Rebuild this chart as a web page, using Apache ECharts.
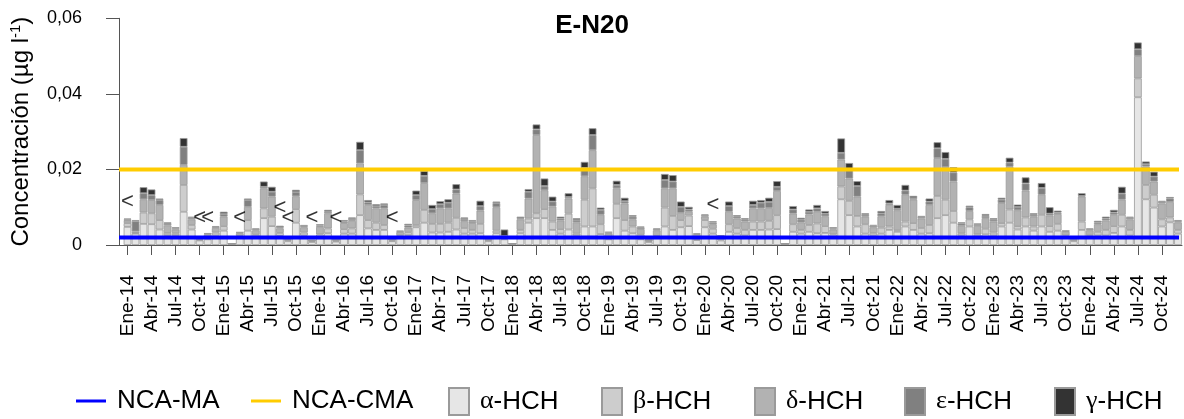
<!DOCTYPE html>
<html>
<head>
<meta charset="utf-8">
<script src="https://cdn.jsdelivr.net/npm/echarts@6/dist/echarts.min.js"></script>
<style>html,body{margin:0;padding:0;background:#fff}#c{width:1184px;height:419px}</style>
</head>
<body>
<div id="c"></div>
<script>
// ---- data (values in 0.001 µg/l) ----
const UNIT = 0.001;
const monthNames = ['Ene','Feb','Mar','Abr','May','Jun','Jul','Ago','Sep','Oct','Nov','Dic'];
const years = ['14','15','16','17','18','19','20','21','22','23','24'];
const categories = years.flatMap(y => monthNames.map(m => m + '-' + y));

const alpha = [4.8,3.0,5.6,5.5,4.1,2.6,2.6,8.8,4.1,1.2, 1.5,2.5,3.8,0.3,2.0,3.8,2.2,7.1,5.0,2.4, 1.0,5.9,2.5,0.8,2.0,3.1,0.9,3.0,3.0,7.9, 4.4,4.0,4.0,1.0,2.0,2.6,4.7,5.9,3.3,3.3, 3.5,4.1,3.0,3.0,3.1,1.0,3.1,1.5,0.3,3.1, 5.9,7.1,7.1,4.0,3.0,4.1,2.5,4.9,4.9,2.9, 1.5,7.1,3.8,3.1,1.5,0.8,1.8,4.9,4.0,4.7, 5.0,1.3,4.7,3.0,1.2,3.5,3.0,2.5,4.0,4.0, 4.1,4.2,0.3,3.5,3.0,3.5,3.1,3.2,2.0,12.1, 7.9,4.9,3.0,2.5,3.0,4.0,3.5,4.9,4.0,3.0, 3.1,7.1,7.9,5.9,2.5,4.9,2.2,2.8,2.5,4.9, 5.9,4.1,4.9,3.8,4.9,3.5,3.8,2.0,1.0,4.0, 2.0,2.5,2.5,3.2,4.9,2.5,39.1,12.1,9.9,4.9, 6.0,3.0];
const beta = [1.0,0.2,3.0,2.9,2.5,0.6,0.5,7.1,1.2,0.2, 0.5,0.8,1.2,0,0.4,2.8,0.5,2.6,2.5,0.8, 0.3,3.6,0.8,0.2,0.8,1.3,0.2,1.2,1.4,5.5, 2.2,1.9,1.3,0.2,0.6,0.8,0.6,3.4,2.3,2.3, 2.4,3.1,1.5,1.0,2.5,0.3,0.7,0.3,0,0.9, 1.1,1.3,2.4,2.2,1.2,4.2,0.5,7.1,10.1,2.6, 0.5,3.8,2.8,1.8,1.2,0.2,0.6,5.0,3.7,1.9, 2.8,0.3,1.9,1.3,0.4,2.0,1.5,1.5,2.2,2.2, 2.3,3.7,0,2.0,1.0,1.8,2.6,1.8,0.8,3.4, 3.8,2.8,2.5,0.7,1.6,0.9,0.4,1.3,1.8,1.5, 2.2,5.9,4.1,3.1,0.6,1.9,0.6,1.5,0.8,0.9, 3.5,0.9,2.4,1.1,3.1,1.5,1.8,0.5,0.3,2.2, 0.6,1.0,1.5,1.8,3.1,1.5,5.0,3.8,3.4,1.9, 1.3,1.0];
const delta = [0.6,0.4,3.5,3.5,4.0,2.0,1.0,5.3,1.5,0.2, 0.8,1.2,2.5,0,0.7,3.5,1.2,5.3,5.3,1.2, 0.3,3.4,1.4,0.2,2.0,4.0,0.3,1.6,2.0,8.2, 4.0,3.8,4.4,0.3,0.8,1.2,6.6,7.1,2.8,4.1, 3.8,6.4,1.8,1.8,3.5,0.4,6.2,0.2,0,2.8, 5.3,20.7,5.0,4.0,2.3,4.0,3.0,6.2,10.1,2.5, 1.0,4.1,4.4,1.9,1.5,0.3,1.5,5.1,7.3,1.9, 1.0,1.1,0.9,1.2,0.6,3.3,2.5,2.2,3.5,3.5, 3.4,6.4,0,2.8,2.0,2.8,3.1,2.6,1.3,7.1, 5.9,5.1,2.0,1.5,3.0,5.7,5.3,7.1,6.2,2.5, 5.3,10.0,8.6,7.8,2.0,2.2,2.3,2.8,2.9,5.3, 11.3,4.2,7.1,2.6,5.3,2.8,2.6,1.0,0.4,6.6, 1.3,2.0,2.5,3.0,4.0,2.8,5.9,4.9,3.5,4.2, 4.1,2.0];
const epsilon = [0.4,2.7,1.6,1.3,1.3,0.4,0.3,4.8,0.4,0.1, 0.2,0.3,0.7,0,0.2,1.8,0.3,0.4,1.3,0.3, 0.1,1.1,0.3,0.05,0.4,0.4,0.05,0.4,0.5,3.5, 0.7,0.6,0.9,0.05,0.2,0.6,1.3,1.9,1.1,1.1, 1.5,1.1,0.6,0.5,1.2,0.05,1.1,0.4,0,0.3, 1.8,1.5,1.1,1.3,0.5,0.4,0.6,2.2,4.0,1.3, 0.3,0.9,0.6,0.7,0.4,0.05,0.3,2.2,1.8,1.6, 0.6,0.2,0.4,0.5,0.2,1.5,0.5,0.5,0.9,1.5, 1.6,1.1,0,1.1,0.7,0.7,0.9,0.7,0.3,1.8, 2.6,2.8,0.5,0.4,0.8,0.4,0.4,1.1,0.4,0.4, 0.9,2.6,2.2,2.4,0.6,1.0,0.3,0.6,0.5,0.9, 1.1,0.9,1.9,0.5,1.8,0.5,0.4,0.2,0.05,0.2, 0.3,0.5,0.5,0.6,1.6,0.4,1.8,0.6,1.3,0.4, 0.9,0.3];
const gamma = [0.2,0.3,1.6,1.5,0.4,0.4,0.3,2.3,0.3,0.1, 0.1,0.2,0.6,0,0.1,0.4,0.2,1.4,1.3,0.4, 0.1,0.6,0.3,0.05,0.3,0.5,0.05,0.4,0.4,2.2, 0.6,0.5,0.4,0.05,0.2,0.4,1.2,1.3,1.1,0.8, 0.9,1.4,0.4,0.3,1.4,0.05,0.4,1.7,0,0.4, 0.7,1.3,2.0,1.3,0.5,1.0,0.5,1.6,1.8,0.6, 0.2,1.1,0.9,0.4,0.3,0.05,0.2,1.6,1.7,1.4, 0.7,0.2,0.2,0.3,0.2,1.2,0.4,0.4,1.1,0.7, 1.1,1.5,0,0.9,0.5,0.6,0.9,0.7,0.3,3.8, 1.5,1.3,0.4,0.2,0.6,0.9,1.0,1.5,0.6,0.3, 0.8,1.6,1.8,1.4,0.3,0.4,0.3,0.5,0.4,0.5, 1.3,0.6,1.6,0.4,1.3,1.7,0.5,0.1,0.05,0.7, 0.2,0.4,0.5,0.7,1.8,0.3,1.8,0.7,1.3,0.3, 0.4,0.3];
// "<" (below detection limit) markers: [category index, height in 0.001 µg/l]
const ltMarks = [[0,11.4],[9,7.1],[10,7.1],[14,7.1],[19,9.8],[20,7.1],[23,7.1],[26,7.1],[33,7.1],[73,10.6]];
const ncaMA = 0.002;
const ncaCMA = 0.02;
const yTicks = [0, 0.02, 0.04, 0.06];

const FONT = 'Liberation Sans, Arial, sans-serif';
const seriesDefs = [
  {name:'α-HCH', data:alpha, color:'#e6e6e6'},
  {name:'β-HCH', data:beta, color:'#cdcdcd'},
  {name:'δ-HCH', data:delta, color:'#b2b2b2'},
  {name:'ε-HCH', data:epsilon, color:'#808080'},
  {name:'γ-HCH', data:gamma, color:'#333333'}
];

const chart = echarts.init(document.getElementById('c'), null, {renderer:'canvas'});
const gridTop = 18.3, gridBottom = 174;

const barSeries = seriesDefs.map(s => ({
  name: s.name, type:'bar', stack:'hch', xAxisIndex:0, yAxisIndex:0,
  barCategoryGap:'4%',
  data: s.data.map(v => +(v*UNIT).toFixed(6)),
  itemStyle:{color:s.color, borderColor:'#9a9a9a', borderWidth:0.8},
  emphasis:{disabled:true}, z:2
}));

function legendFor(name, left, opts){
  return Object.assign({
    data:[name], left:left, top:387, orient:'horizontal', selectedMode:false,
    padding:0, itemGap:0,
    textStyle:{fontSize:26, fontFamily:FONT, color:'#000', padding:[0,0,0,6],
      rich:{g:{fontSize:26, fontFamily:'Liberation Serif, serif', color:'#000'}, t:{fontSize:26, fontFamily:FONT, color:'#000'}}},
    formatter: n => { const ch = n.charAt(0); if (/[αβδεγ]/.test(ch)) return '{g|' + ch + '}{t|' + n.slice(1) + '}'; return n; }
  }, opts);
}

const option = {
  animation:false,
  backgroundColor:'#fff',
  title:{text:'E-N20', left:'center', top:8, textStyle:{fontSize:26, fontWeight:'bold', fontFamily:FONT, color:'#000'}},
  grid:[
    {left:123.5, right:2, top:gridTop, bottom:gridBottom, outerBoundsMode:'none'},
    {left:119, right:5, top:gridTop, bottom:gridBottom, outerBoundsMode:'none'}
  ],
  xAxis:[
    {type:'category', gridIndex:0, data:categories, boundaryGap:true,
      axisLine:{show:true, lineStyle:{color:'#555', width:1}},
      axisTick:{show:true, interval:2, alignWithLabel:true, length:10, lineStyle:{color:'#555'}},
      axisLabel:{interval:2, rotate:90, margin:30, fontSize:19, fontFamily:FONT, color:'#000'}},
    {type:'value', gridIndex:1, min:0, max:1, show:true,
      axisLine:{show:true, onZero:false, lineStyle:{color:'#555', width:1}},
      axisTick:{show:false}, axisLabel:{show:false}, splitLine:{show:false}}
  ],
  yAxis:[
    {type:'value', gridIndex:0, min:0, max:0.06, interval:0.02, show:false},
    {type:'value', gridIndex:1, min:0, max:0.06, interval:0.02,
      name:'{a|Concentración (µg l}{s|-1}{a|)}', nameLocation:'middle', nameGap:84,
      nameTextStyle:{rich:{a:{fontSize:24, fontFamily:FONT, color:'#000'}, s:{fontSize:15, fontFamily:FONT, color:'#000', verticalAlign:'top', padding:[0,0,12,0]}}},
      axisLine:{show:true, lineStyle:{color:'#555', width:1}},
      axisTick:{show:true, inside:false, length:13, lineStyle:{color:'#555'}},
      splitLine:{show:false},
      axisLabel:{margin:37, fontSize:18, fontFamily:FONT, color:'#000',
        formatter: v => yTicks.includes(+v.toFixed(4)) ? (v === 0 ? '0' : v.toFixed(2).replace('.', ',')) : ''}}
  ],
  legend:[
    legendFor('NCA-MA', 76, {itemWidth:30, itemHeight:3, icon:'rect', top:388}),
    legendFor('NCA-CMA', 251, {itemWidth:30, itemHeight:3, icon:'rect', top:388}),
    legendFor('α-HCH', 448, {itemWidth:20, itemHeight:27, icon:'rect'}),
    legendFor('β-HCH', 601, {itemWidth:20, itemHeight:27, icon:'rect'}),
    legendFor('δ-HCH', 754, {itemWidth:20, itemHeight:27, icon:'rect'}),
    legendFor('ε-HCH', 904, {itemWidth:20, itemHeight:27, icon:'rect'}),
    legendFor('γ-HCH', 1054, {itemWidth:20, itemHeight:27, icon:'rect'})
  ],
  series:[
    ...barSeries,
    {name:'<', type:'scatter', xAxisIndex:0, yAxisIndex:0, symbolSize:1,
      itemStyle:{color:'rgba(0,0,0,0)'}, silent:true, z:5,
      data: ltMarks.map(m => [m[0], m[1]*UNIT]),
      label:{show:true, position:'inside', formatter:'<', fontSize:22, fontFamily:FONT, color:'#000'}},
    {name:'NCA-MA', type:'line', xAxisIndex:1, yAxisIndex:1, symbol:'none', silent:true, z:10,
      data:[[0,ncaMA],[1,ncaMA]], lineStyle:{color:'#0000ff', width:4}, itemStyle:{color:'#0000ff'}},
    {name:'NCA-CMA', type:'line', xAxisIndex:1, yAxisIndex:1, symbol:'none', silent:true, z:10,
      data:[[0,ncaCMA],[1,ncaCMA]], lineStyle:{color:'#ffcc00', width:4}, itemStyle:{color:'#ffcc00'}}
  ]
};
chart.setOption(option);
</script>
</body>
</html>
